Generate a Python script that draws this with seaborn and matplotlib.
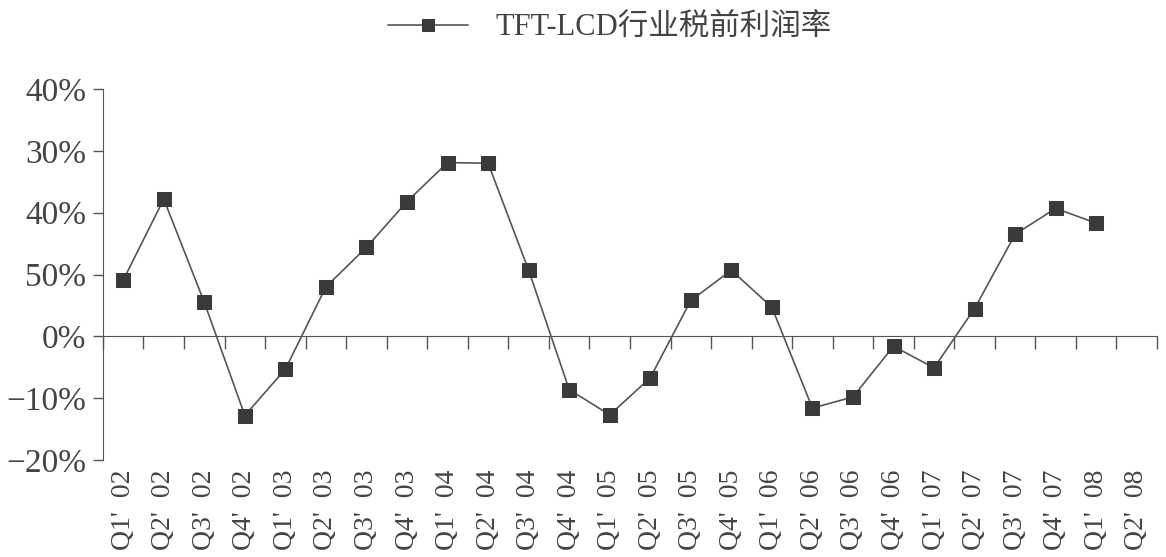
import numpy as np
import pandas as pd
import matplotlib
matplotlib.use("Agg")
import matplotlib.pyplot as plt
from matplotlib.ticker import FixedLocator, FixedFormatter
import seaborn as sns

quarters = ["Q1'  02", "Q2'  02", "Q3'  02", "Q4'  02", "Q1'  03", "Q2'  03", "Q3'  03", "Q4'  03",
            "Q1'  04", "Q2'  04", "Q3'  04", "Q4'  04", "Q1'  05", "Q2'  05", "Q3'  05", "Q4'  05",
            "Q1'  06", "Q2'  06", "Q3'  06", "Q4'  06", "Q1'  07", "Q2'  07", "Q3'  07", "Q4'  07",
            "Q1'  08", "Q2'  08"]
margin = [9.1, 22.2, 5.5, -12.8, -5.3, 8.0, 14.4, 21.8,
          28.1, 28.0, 10.7, -8.6, -12.7, -6.7, 5.8, 10.7,
          4.7, -11.6, -9.8, -1.6, -5.1, 4.5, 16.5, 20.7,
          18.3, np.nan]
ytick_values = [40, 30, 20, 10, 0, -10, -20]
ytick_labels = ["40%", "30%", "40%", "50%", "0%", "\u221210%", "\u221220%"]
series_name = "TFT-LCD行业税前利润率"

sns.set_style("white")
plt.rcParams["font.family"] = ["Liberation Serif", "Noto Sans CJK SC"]

df = pd.DataFrame({"idx": np.arange(len(quarters)), "margin": margin})

fig = plt.figure(figsize=(11.66, 5.57), dpi=100)
ax = fig.add_axes([0.0883, 0.1741, 0.904, 0.6661])

text_color = "#444444"
line_color = "#555555"

sns.lineplot(data=df, x="idx", y="margin", ax=ax, color=line_color, linewidth=1.2,
             marker="s", markersize=10, markerfacecolor="#3a3a3a",
             markeredgecolor="#3a3a3a", label=series_name, legend=False)

ax.set_xlim(-0.5, len(quarters) - 0.5)
ax.set_ylim(-20, 40)
ax.set_xlabel("")
ax.set_ylabel("")

# y axis
ax.yaxis.set_major_locator(FixedLocator(ytick_values))
ax.yaxis.set_major_formatter(FixedFormatter(ytick_labels))
ax.tick_params(axis="y", direction="out", length=7, width=1, color=line_color,
               labelsize=24, labelcolor=text_color, pad=5, left=True)

# x axis line sits at zero with ticks on category boundaries
for s in ["top", "right"]:
    ax.spines[s].set_visible(False)
ax.spines["left"].set_color(line_color)
ax.spines["bottom"].set_color(line_color)
ax.spines["bottom"].set_position(("data", 0))
ax.xaxis.set_major_locator(FixedLocator(np.arange(len(quarters) + 1) - 0.5))
ax.tick_params(axis="x", direction="out", length=9, width=1, color=line_color,
               labelbottom=False, bottom=True)

# category labels along the bottom of the plot
sec = ax.secondary_xaxis("bottom")
sec.spines["bottom"].set_visible(False)
sec.xaxis.set_major_locator(FixedLocator(np.arange(len(quarters))))
sec.xaxis.set_major_formatter(FixedFormatter(quarters))
sec.tick_params(axis="x", length=0, labelsize=20, labelcolor=text_color,
                labelrotation=90, pad=7)

handles, labels = ax.get_legend_handles_labels()
fig.legend(handles, labels, loc="upper center", bbox_to_anchor=(0.523, 1.025),
           frameon=False, fontsize=22, labelcolor=text_color,
           handlelength=2.6, handletextpad=0.9, markerscale=0.8)

fig.savefig("out.png", dpi=100, facecolor="white")
